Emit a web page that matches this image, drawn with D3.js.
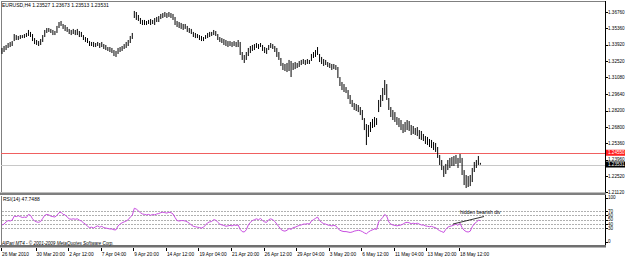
<!DOCTYPE html>
<html>
<head>
<meta charset="utf-8">
<script src="https://cdn.jsdelivr.net/npm/d3@7"></script>
<style>
  body { margin: 0; background: #fff; }
  svg { display: block; }
  text { font-family: "Liberation Sans", Arial, sans-serif; }
</style>
</head>
<body>
<div id="chart"></div>
<script>
var width = 625;
var height = 259;

// chart header
var symbol = "EURUSD,H4";
var lastOHLC = [1.23527, 1.23673, 1.23513, 1.23531];

// H4 bars, 26 Mar 2010 .. 19 May 2010
var highs = [
  1.3364, 1.3381, 1.3390, 1.3407, 1.3416, 1.3424, 1.3485, 1.3476, 1.3468, 1.3476,
  1.3476, 1.3485, 1.3494, 1.3520, 1.3503, 1.3485, 1.3450, 1.3433, 1.3424, 1.3442,
  1.3476, 1.3520, 1.3537, 1.3537, 1.3529, 1.3520, 1.3511, 1.3555, 1.3589, 1.3598,
  1.3572, 1.3563, 1.3546, 1.3529, 1.3520, 1.3529, 1.3520, 1.3529, 1.3511,
  1.3503, 1.3476, 1.3459, 1.3450, 1.3424, 1.3416, 1.3416, 1.3407, 1.3416, 1.3407,
  1.3416, 1.3398, 1.3390, 1.3372, 1.3372, 1.3364, 1.3346, 1.3338, 1.3364, 1.3372,
  1.3381, 1.3398, 1.3416, 1.3433, 1.3468, 1.3494, 1.3685, 1.3676, 1.3650, 1.3624,
  1.3607, 1.3607, 1.3598, 1.3607, 1.3615, 1.3607, 1.3624, 1.3633, 1.3641, 1.3659,
  1.3667, 1.3676, 1.3667, 1.3676, 1.3667, 1.3659, 1.3633, 1.3598, 1.3589, 1.3581,
  1.3572, 1.3572, 1.3555, 1.3537, 1.3529, 1.3503, 1.3494, 1.3485, 1.3476,
  1.3468, 1.3459, 1.3476, 1.3494, 1.3503, 1.3503, 1.3520, 1.3511, 1.3485, 1.3459,
  1.3450, 1.3442, 1.3433, 1.3424, 1.3424, 1.3416, 1.3424, 1.3416, 1.3433, 1.3416,
  1.3329, 1.3303, 1.3329, 1.3364, 1.3381, 1.3390, 1.3398, 1.3407, 1.3398, 1.3407,
  1.3390, 1.3372, 1.3364, 1.3390, 1.3407, 1.3398, 1.3381, 1.3364, 1.3329, 1.3277,
  1.3234, 1.3225, 1.3234, 1.3260, 1.3251, 1.3234, 1.3242, 1.3234, 1.3251, 1.3260,
  1.3268, 1.3260, 1.3268, 1.3260, 1.3312, 1.3329, 1.3346, 1.3372, 1.3312,
  1.3286, 1.3268, 1.3260, 1.3242, 1.3234, 1.3225, 1.3225, 1.3216, 1.3199, 1.3112,
  1.3069, 1.3051, 1.3025, 1.2999, 1.2956, 1.2913, 1.2887, 1.2878, 1.2869, 1.2852,
  1.2826, 1.2756, 1.2704, 1.2696, 1.2722, 1.2748, 1.2765, 1.2756, 1.2913, 1.2956,
  1.3017, 1.3086, 1.3051, 1.2930, 1.2852, 1.2826, 1.2808, 1.2765, 1.2756, 1.2739,
  1.2704, 1.2722, 1.2739, 1.2730, 1.2696, 1.2687, 1.2670, 1.2678, 1.2652, 1.2644,
  1.2618, 1.2600, 1.2592, 1.2574, 1.2566, 1.2548, 1.2540, 1.2505, 1.2436,
  1.2392, 1.2340, 1.2358, 1.2392, 1.2410, 1.2418, 1.2427, 1.2436, 1.2410, 1.2444,
  1.2410, 1.2305, 1.2262, 1.2253, 1.2262, 1.2323, 1.2375, 1.2392, 1.2427, 1.23673
];
var lows = [
  1.3312, 1.3329, 1.3346, 1.3364, 1.3372, 1.3381, 1.3424, 1.3433, 1.3433, 1.3442,
  1.3450, 1.3450, 1.3459, 1.3468, 1.3459, 1.3424, 1.3398, 1.3390, 1.3381, 1.3390,
  1.3416, 1.3459, 1.3494, 1.3503, 1.3494, 1.3476, 1.3476, 1.3494, 1.3537, 1.3555,
  1.3529, 1.3511, 1.3503, 1.3485, 1.3476, 1.3485, 1.3476, 1.3476, 1.3459,
  1.3459, 1.3433, 1.3416, 1.3407, 1.3381, 1.3381, 1.3372, 1.3372, 1.3381, 1.3364,
  1.3372, 1.3355, 1.3346, 1.3338, 1.3329, 1.3320, 1.3294, 1.3286, 1.3312, 1.3329,
  1.3338, 1.3355, 1.3364, 1.3381, 1.3407, 1.3442, 1.3624, 1.3607, 1.3598, 1.3572,
  1.3563, 1.3563, 1.3563, 1.3572, 1.3563, 1.3572, 1.3563, 1.3589, 1.3589, 1.3615,
  1.3624, 1.3633, 1.3624, 1.3633, 1.3624, 1.3607, 1.3563, 1.3546, 1.3537, 1.3529,
  1.3520, 1.3529, 1.3503, 1.3494, 1.3485, 1.3459, 1.3450, 1.3450, 1.3433,
  1.3424, 1.3424, 1.3442, 1.3450, 1.3459, 1.3468, 1.3476, 1.3468, 1.3433, 1.3416,
  1.3407, 1.3390, 1.3381, 1.3372, 1.3381, 1.3372, 1.3381, 1.3372, 1.3372, 1.3303,
  1.3260, 1.3234, 1.3260, 1.3294, 1.3320, 1.3338, 1.3346, 1.3364, 1.3355, 1.3372,
  1.3338, 1.3320, 1.3312, 1.3346, 1.3364, 1.3355, 1.3329, 1.3286, 1.3260, 1.3208,
  1.3173, 1.3164, 1.3155, 1.3164, 1.3112, 1.3173, 1.3181, 1.3190, 1.3199, 1.3216,
  1.3225, 1.3216, 1.3225, 1.3225, 1.3251, 1.3277, 1.3286, 1.3303, 1.3242,
  1.3225, 1.3208, 1.3216, 1.3199, 1.3190, 1.3173, 1.3181, 1.3173, 1.3103, 1.3034,
  1.2999, 1.2982, 1.2973, 1.2921, 1.2878, 1.2852, 1.2826, 1.2817, 1.2808, 1.2782,
  1.2739, 1.2652, 1.2522, 1.2592, 1.2635, 1.2670, 1.2678, 1.2696, 1.2808, 1.2852,
  1.2904, 1.2956, 1.2913, 1.2826, 1.2765, 1.2739, 1.2722, 1.2696, 1.2678, 1.2652,
  1.2626, 1.2635, 1.2652, 1.2644, 1.2609, 1.2618, 1.2609, 1.2600, 1.2574, 1.2566,
  1.2557, 1.2531, 1.2522, 1.2505, 1.2496, 1.2479, 1.2462, 1.2410, 1.2349,
  1.2305, 1.2245, 1.2271, 1.2305, 1.2323, 1.2340, 1.2340, 1.2358, 1.2323, 1.2366,
  1.2262, 1.2175, 1.2149, 1.2158, 1.2166, 1.2201, 1.2288, 1.2323, 1.2349, 1.23513
];

// RSI(14) per bar
var rsi = [
  38, 40, 45, 48, 47, 49, 58, 57, 59, 57,
  55, 56, 55, 62, 60, 52, 47, 45, 44, 46,
  53, 60, 62, 61, 58, 57, 56, 60, 66, 67,
  62, 61, 56, 52, 51, 52, 51, 52, 49,
  47, 43, 40, 35, 32, 33, 31, 34, 36, 33,
  35, 32, 31, 30, 29, 29, 27, 27, 36, 40,
  43, 45, 47, 50, 56, 60, 76, 74, 70, 66,
  63, 62, 61, 62, 60, 62, 61, 63, 64, 66,
  67, 66, 65, 67, 66, 63, 55, 48, 47, 48,
  48, 47, 45, 42, 38, 35, 34, 33, 32,
  31, 33, 38, 43, 45, 46, 50, 49, 44, 40,
  38, 37, 35, 36, 37, 36, 38, 37, 38, 28,
  23, 22, 27, 38, 44, 48, 50, 52, 50, 53,
  48, 45, 44, 50, 52, 50, 46, 40, 34, 28,
  25, 24, 26, 30, 28, 32, 33, 35, 37, 38,
  40, 40, 41, 40, 47, 50, 53, 56, 48,
  44, 41, 40, 38, 37, 36, 37, 36, 30, 26,
  24, 23, 23, 22, 21, 22, 24, 25, 26, 25,
  23, 20, 18, 22, 25, 27, 29, 28, 45, 50,
  55, 62, 58, 45, 40, 38, 37, 36, 37, 38,
  40, 43, 44, 43, 41, 42, 41, 42, 40, 38,
  38, 36, 35, 34, 35, 33, 32, 28, 25,
  23, 21, 28, 33, 35, 36, 38, 40, 37, 42,
  32, 26, 23, 22, 24, 34, 41, 44, 49, 47.7488
];

var dateLabels = ["26 Mar 2010", "30 Mar 20:00", "2 Apr 12:00", "7 Apr 04:00", "9 Apr 20:00",
  "14 Apr 12:00", "19 Apr 04:00", "21 Apr 20:00", "26 Apr 12:00", "29 Apr 04:00",
  "3 May 20:00", "6 May 12:00", "11 May 04:00", "13 May 20:00", "18 May 12:00"];
var dateIdx = [0, 17, 33, 49, 65, 81, 97, 113, 129, 145, 161, 177, 193, 209, 225];

var priceTicks = [1.36760, 1.35360, 1.33920, 1.32520, 1.31080, 1.29640, 1.28200,
  1.26800, 1.25360, 1.23960, 1.22520, 1.21120];
var rsiTicks = [100, 70, 60, 50, 40, 30, 0];
var rsiLevels = [70, 60, 50, 40, 30];
var alertLevel = 1.24550;
var bidPrice = 1.23531;
var rsiName = "RSI(14)";
var note = "hidden bearish div";
var copyright = "AlPari MT4 - \u00a9 2001-2009 MetaQuotes Software Corp.";

// layout
var plotRight = 605;
var mainBottom = 192;
var rsiTop = 196, rsiBottom = 245;

var svg = d3.select("#chart").append("svg")
  .attr("width", width)
  .attr("height", height);

svg.append("rect").attr("width", width).attr("height", height).attr("fill", "#fff");

var x = d3.scaleLinear()
  .domain([0, highs.length - 1])
  .range([2, 480.4]);

var y = d3.scaleLinear()
  .domain([1.21120, 1.36760])
  .range([192.3, 12]);

var yr = d3.scaleLinear()
  .domain([0, 100])
  .range([241.7, 197.7]);

function px(v) { return Math.round(v) + 0.5; }

// frames
svg.append("path")
  .attr("d", "M1.5," + mainBottom + "V1.5H" + (plotRight + 0.5) + "V" + rsiBottom)
  .attr("fill", "none").attr("stroke", "#808080").attr("stroke-width", 1)
  .attr("shape-rendering", "crispEdges");
svg.append("line")
  .attr("x1", 1.5).attr("x2", 1.5).attr("y1", rsiTop).attr("y2", rsiBottom)
  .attr("stroke", "#808080").attr("shape-rendering", "crispEdges");
svg.append("line")
  .attr("x1", plotRight + 0.5).attr("x2", plotRight + 0.5).attr("y1", 1).attr("y2", rsiBottom + 2)
  .attr("stroke", "#000").attr("shape-rendering", "crispEdges");

// window separators
svg.append("rect").attr("x", 0).attr("y", 192.5).attr("width", plotRight + 1).attr("height", 2.5)
  .attr("fill", "#7f7f7f");
svg.append("rect").attr("x", 0).attr("y", 245).attr("width", plotRight + 1).attr("height", 2.5)
  .attr("fill", "#6f6f6f");

// alert line and bid line
svg.append("line")
  .attr("x1", 1).attr("x2", plotRight).attr("y1", px(y(alertLevel))).attr("y2", px(y(alertLevel)))
  .attr("stroke", "#f06060").attr("shape-rendering", "crispEdges");
svg.append("line")
  .attr("x1", 1).attr("x2", plotRight).attr("y1", px(y(bidPrice))).attr("y2", px(y(bidPrice)))
  .attr("stroke", "#c8c8c8").attr("shape-rendering", "crispEdges");

// bars (high-low), soft edges like the scaled-down screenshot
svg.append("g").selectAll("line")
  .data(highs)
  .enter().append("line")
  .attr("x1", function(d, i) { return x(i); })
  .attr("x2", function(d, i) { return x(i); })
  .attr("y1", function(d) { return y(d); })
  .attr("y2", function(d, i) { return y(lows[i]); })
  .attr("stroke", "#000")
  .attr("stroke-width", 1);

// title
svg.append("text")
  .attr("x", 2).attr("y", 7)
  .attr("font-size", 5).attr("fill", "#000")
  .text(symbol + " " + lastOHLC.map(function(v) { return v.toFixed(5); }).join(" "));

// price axis
var pa = svg.append("g");
priceTicks.forEach(function(t) {
  var yy = y(t);
  pa.append("line").attr("x1", plotRight + 1).attr("x2", plotRight + 3)
    .attr("y1", px(yy)).attr("y2", px(yy)).attr("stroke", "#000").attr("shape-rendering", "crispEdges");
  pa.append("text").attr("x", 608).attr("y", yy + 1.7)
    .attr("font-size", 4.6).attr("fill", "#000").text(t.toFixed(5));
});

function priceBox(v, fill) {
  var yy = y(v);
  pa.append("rect").attr("x", 606).attr("y", yy - 3).attr("width", 19).attr("height", 6).attr("fill", fill);
  pa.append("text").attr("x", 608).attr("y", yy + 1.7)
    .attr("font-size", 4.6).attr("fill", "#fff").text(v.toFixed(5));
}
priceBox(alertLevel, "#ff2020");
priceBox(bidPrice, "#000");

// RSI window
var rg = svg.append("g");
rsiLevels.forEach(function(l) {
  rg.append("line").attr("x1", 2).attr("x2", plotRight)
    .attr("y1", px(yr(l))).attr("y2", px(yr(l)))
    .attr("stroke", "#b0b0b0").attr("stroke-dasharray", "2,1")
    .attr("shape-rendering", "crispEdges");
});
rsiTicks.forEach(function(t) {
  rg.append("line").attr("x1", plotRight + 1).attr("x2", plotRight + 3)
    .attr("y1", px(yr(t))).attr("y2", px(yr(t))).attr("stroke", "#000").attr("shape-rendering", "crispEdges");
  rg.append("text").attr("x", 608).attr("y", yr(t) + 1.7)
    .attr("font-size", 4.6).attr("fill", "#000").text(t);
});

var rsiLine = d3.line()
  .x(function(d, i) { return x(i); })
  .y(function(d) { return yr(d); });
rg.append("path").datum(rsi)
  .attr("d", rsiLine)
  .attr("fill", "none")
  .attr("stroke", "#c84ee0")
  .attr("stroke-width", 1);

rg.append("text").attr("x", 3).attr("y", 201)
  .attr("font-size", 5).attr("fill", "#000")
  .text(rsiName + " " + rsi[rsi.length - 1].toFixed(4));

// annotation
rg.append("line").attr("x1", 453).attr("y1", 224).attr("x2", 484).attr("y2", 216.5)
  .attr("stroke", "#000").attr("stroke-width", 0.8);
rg.append("text").attr("x", 460).attr("y", 214)
  .attr("font-size", 5).attr("fill", "#000").text(note);

rg.append("text").attr("x", 2).attr("y", 245)
  .attr("font-size", 4.6).attr("font-style", "italic").attr("fill", "#000").text(copyright);

// time axis
var ta = svg.append("g");
dateIdx.forEach(function(idx, k) {
  var xx = x(idx);
  ta.append("line").attr("x1", px(xx) - 1).attr("x2", px(xx) - 1).attr("y1", 248).attr("y2", 251)
    .attr("stroke", "#000").attr("shape-rendering", "crispEdges");
  ta.append("text").attr("x", xx).attr("y", 255.5)
    .attr("font-size", 4.8).attr("fill", "#000").text(dateLabels[k]);
});
</script>
</body>
</html>
